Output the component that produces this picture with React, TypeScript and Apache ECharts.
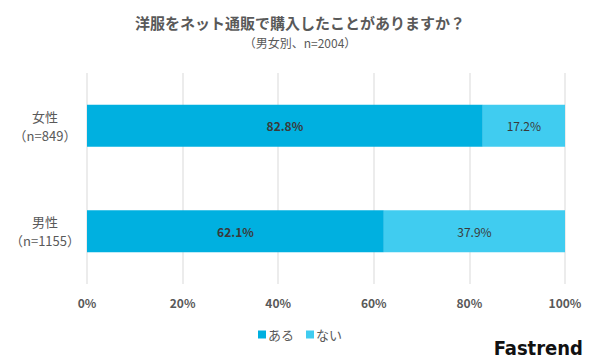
import React, { useEffect, useRef } from "react";
import * as echarts from "echarts";

const categories = ["女性\n（n=849）", "男性\n（n=1155）"];
const aruValues = [82.8, 62.1];
const naiValues = [17.2, 37.9];
const seriesNames = ["ある", "ない"];
const xTicks = [0, 20, 40, 60, 80, 100];

export default function App() {
  const ref = useRef<HTMLDivElement>(null);
  useEffect(() => {
    const chart = echarts.init(ref.current!, null, { renderer: "svg" });
    const font = "'Noto Sans CJK JP', 'Noto Sans', sans-serif";
    chart.setOption({
      animation: false,
      textStyle: { fontFamily: font },
      title: {
        text: "洋服をネット通販で購入したことがありますか？",
        subtext: "（男女別、n=2004）",
        left: "center",
        top: 10,
        itemGap: 6,
        textStyle: { fontSize: 15, fontWeight: "bold", color: "#595959", fontFamily: font },
        subtextStyle: { fontSize: 12, color: "#595959", fontFamily: font },
      },
      legend: {
        bottom: 14,
        left: "center",
        itemWidth: 8,
        itemHeight: 8,
        itemGap: 12,
        icon: "rect",
        textStyle: { fontSize: 13, color: "#595959", padding: [0, 0, 0, -3] },
        data: seriesNames,
      },
      grid: { left: 87, right: 35, top: 73, bottom: 76 },
      xAxis: {
        type: "value",
        min: 0,
        max: 100,
        interval: 20,
        axisLabel: {
          formatter: (v: number) => (xTicks.includes(v) ? v + "%" : ""),
          color: "#595959",
          fontSize: 12,
          fontWeight: "bold",
          margin: 12,
        },
        splitLine: { lineStyle: { color: "#e6e6e6", width: 1.5 } },
        axisLine: { show: false },
        axisTick: { show: false },
      },
      yAxis: {
        type: "category",
        inverse: true,
        data: categories,
        axisLine: { show: false },
        axisTick: { show: false },
        axisLabel: {
          color: "#595959",
          fontSize: 13,
          lineHeight: 19,
          margin: 42,
          align: "center",
          formatter: (v: string) => v,
        },
      },
      series: [
        {
          name: seriesNames[0],
          type: "bar",
          stack: "s",
          barWidth: 42,
          data: aruValues,
          itemStyle: { color: "#00B0E0" },
          label: {
            show: true,
            position: "inside",
            formatter: (p: any) => p.value.toFixed(1) + "%",
            color: "#3a3a3a",
            fontWeight: "bold",
            fontSize: 12,
          },
        },
        {
          name: seriesNames[1],
          type: "bar",
          stack: "s",
          barWidth: 42,
          data: naiValues,
          itemStyle: { color: "#40CCF0" },
          label: {
            show: true,
            position: "inside",
            formatter: (p: any) => p.value.toFixed(1) + "%",
            color: "#3a3a3a",
            fontSize: 12,
          },
        },
      ],
      graphic: [
        {
          type: "text",
          right: 17,
          bottom: 2,
          style: {
            text: "Fastrend",
            fontSize: 20,
            fontWeight: "bold",
            fontFamily: "'DejaVu Sans Condensed', 'DejaVu Sans', sans-serif",
            fill: "#111",
          },
        },
      ],
    });
    return () => chart.dispose();
  }, []);
  return <div ref={ref} style={{ width: 600, height: 360, marginLeft: -8, marginTop: -8 }} />;
}
